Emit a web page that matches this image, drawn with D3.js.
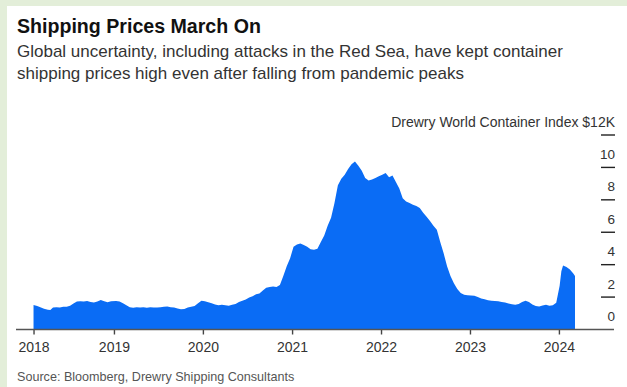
<!DOCTYPE html>
<html>
<head>
<meta charset="utf-8">
<script src="https://cdn.jsdelivr.net/npm/d3@7/dist/d3.min.js"></script>
<style>
  html, body { margin: 0; padding: 0; background: #e3eed9; }
  svg { display: block; }
  text { font-family: "Liberation Sans", Arial, Helvetica, sans-serif; }
</style>
</head>
<body>
<svg id="chart" width="627" height="387"></svg>
<script>
// Drewry World Container Index, $ thousands per 40ft container
const dates = [
  "2018-02-05","2018-02-20","2018-03-05","2018-03-20","2018-04-05","2018-04-15","2018-04-26","2018-05-10","2018-05-24","2018-06-07","2018-06-21","2018-07-05","2018-07-19","2018-08-02","2018-08-16","2018-08-30","2018-09-13","2018-09-27","2018-10-11","2018-10-25","2018-11-08","2018-11-22","2018-12-06","2018-12-20",
  "2019-01-10","2019-01-24","2019-02-07","2019-02-21","2019-03-07","2019-03-21","2019-04-04","2019-04-18","2019-05-02","2019-05-16","2019-05-30","2019-06-13","2019-06-27","2019-07-11","2019-07-25","2019-08-08","2019-08-22","2019-09-05","2019-09-19","2019-10-03","2019-10-17","2019-10-31","2019-11-14","2019-11-28","2019-12-12","2019-12-26",
  "2020-01-09","2020-01-23","2020-02-06","2020-02-20","2020-03-05","2020-03-19","2020-04-02","2020-04-16","2020-04-30","2020-05-14","2020-05-28","2020-06-11","2020-06-25","2020-07-09","2020-07-23","2020-08-06","2020-08-20","2020-09-03","2020-09-17","2020-10-01","2020-10-15","2020-10-29","2020-11-12","2020-11-26","2020-12-10","2020-12-24",
  "2021-01-07","2021-01-21","2021-02-04","2021-02-18","2021-03-04","2021-03-18","2021-04-01","2021-04-15","2021-04-29","2021-05-13","2021-05-27","2021-06-10","2021-06-24","2021-07-08","2021-07-22","2021-08-05","2021-08-19","2021-09-02","2021-09-16","2021-09-30","2021-10-14","2021-10-28","2021-11-11","2021-11-25","2021-12-09","2021-12-23",
  "2022-01-06","2022-01-20","2022-02-03","2022-02-17","2022-03-03","2022-03-17","2022-03-31","2022-04-14","2022-04-28","2022-05-12","2022-05-26","2022-06-09","2022-06-23","2022-07-07","2022-07-21","2022-08-04","2022-08-18","2022-09-01","2022-09-15","2022-09-29","2022-10-13","2022-10-27","2022-11-10","2022-11-24","2022-12-08","2022-12-22",
  "2023-01-05","2023-01-19","2023-02-02","2023-02-16","2023-03-02","2023-03-16","2023-03-30","2023-04-13","2023-04-27","2023-05-11","2023-05-25","2023-06-08","2023-06-22","2023-07-06","2023-07-20","2023-08-03","2023-08-17","2023-08-31","2023-09-14","2023-09-28","2023-10-12","2023-10-26","2023-11-09","2023-11-23","2023-12-07","2023-12-21",
  "2024-01-04","2024-01-11","2024-01-18","2024-02-01","2024-02-15","2024-02-29","2024-03-07"
];
const values = [
  1.51,1.45,1.37,1.28,1.22,1.20,1.36,1.38,1.36,1.40,1.41,1.47,1.60,1.72,1.75,1.72,1.76,1.70,1.67,1.73,1.82,1.74,1.68,1.75,
  1.76,1.73,1.62,1.50,1.37,1.34,1.38,1.36,1.37,1.34,1.37,1.35,1.36,1.38,1.40,1.42,1.38,1.35,1.30,1.25,1.27,1.36,1.40,1.45,1.62,1.78,
  1.75,1.68,1.62,1.55,1.50,1.52,1.50,1.47,1.52,1.58,1.70,1.78,1.85,1.98,2.05,2.17,2.22,2.40,2.58,2.62,2.65,2.62,2.75,3.30,3.90,4.40,
  5.10,5.25,5.30,5.22,5.10,4.95,4.92,4.98,5.40,5.80,6.40,6.90,7.80,8.90,9.30,9.55,9.90,10.20,10.37,10.10,9.80,9.35,9.20,9.25,9.35,9.45,
  9.55,9.65,9.40,9.50,9.10,8.70,8.10,7.90,7.80,7.70,7.62,7.50,7.20,6.95,6.70,6.40,6.15,5.40,4.70,3.90,3.30,2.85,2.50,2.25,2.15,2.12,
  2.10,2.08,2.00,1.92,1.86,1.80,1.78,1.76,1.74,1.70,1.67,1.60,1.56,1.52,1.58,1.70,1.78,1.70,1.55,1.45,1.42,1.48,1.52,1.46,1.50,1.65,
  2.70,3.60,3.95,3.85,3.70,3.45,3.30
];
const yTicks = [0, 2, 4, 6, 8, 10, 12];
const yearTicks = ["2018", "2019", "2020", "2021", "2022", "2023", "2024"];

const title = "Shipping Prices March On";
const subtitle = [
  "Global uncertainty, including attacks in the Red Sea, have kept container",
  "shipping prices high even after falling from pandemic peaks"
];
const yAxisTitle = "Drewry World Container Index $";
const source = "Source: Bloomberg, Drewry Shipping Consultants";

const parse = d3.timeParse("%Y-%m-%d");
const series = dates.map((d, i) => ({ date: parse(d), value: values[i] }));

const svg = d3.select("#chart");
const W = 627, H = 387;

// page panel
svg.append("rect").attr("width", W).attr("height", H).attr("fill", "#e3eed9");
svg.append("rect").attr("x", 7).attr("y", 6).attr("width", W - 7).attr("height", H - 6).attr("fill", "#ffffff");

const x = d3.scaleTime()
  .domain([new Date(2018, 0, 1), series[series.length - 1].date])
  .range([25, 575]);
const y = d3.scaleLinear().domain([0, 12]).range([329.5, 135]);

// headline and deck
svg.append("text").attr("x", 17).attr("y", 33)
  .attr("font-size", 19.6).attr("font-weight", 700).attr("fill", "#111")
  .text(title);
svg.selectAll("text.deck").data(subtitle).join("text")
  .attr("class", "deck")
  .attr("x", 17).attr("y", (d, i) => 57 + i * 22)
  .attr("font-size", 17).attr("fill", "#333")
  .text(d => d);

// filled area
const area = d3.area()
  .x(d => x(d.date))
  .y0(y(0))
  .y1(d => y(d.value))
  .curve(d3.curveLinear);
svg.append("path").datum(series)
  .attr("d", area)
  .attr("fill", "#0a6cf5");

// right-hand value axis: short dashes with labels sitting above them
const yg = svg.append("g");
yg.selectAll("line").data(yTicks.filter(v => v > 0)).join("line")
  .attr("x1", 601).attr("x2", 615)
  .attr("y1", d => y(d)).attr("y2", d => y(d))
  .attr("stroke", "#222").attr("stroke-width", 1.4);
yg.selectAll("text").data(yTicks).join("text")
  .attr("x", 615).attr("y", d => y(d) - 8.5)
  .attr("text-anchor", "end")
  .attr("font-size", d => d === 12 ? 14 : 13.5)
  .attr("fill", "#333")
  .text(d => d === 12 ? yAxisTitle + d + "K" : d);

// time axis
const tickDates = yearTicks.map((t, i) => i === 0 ? series[0].date : new Date(+t, 0, 1));
const xAxis = d3.axisBottom(x)
  .tickValues(tickDates)
  .tickSize(5)
  .tickPadding(8)
  .tickFormat((d, i) => yearTicks[i]);
const xg = svg.append("g").attr("transform", `translate(0,${y(0)})`).call(xAxis);
xg.select(".domain").remove();
xg.selectAll(".tick line").attr("stroke", "#444").attr("stroke-width", 1.4);
xg.selectAll(".tick text")
  .attr("font-family", "'Liberation Sans', Arial, sans-serif")
  .attr("font-size", 14).attr("fill", "#333");
svg.append("line")
  .attr("x1", 16).attr("x2", 614)
  .attr("y1", y(0)).attr("y2", y(0))
  .attr("stroke", "#555").attr("stroke-width", 1.5);

// source line
svg.append("text").attr("x", 17).attr("y", 381)
  .attr("font-size", 12.6).attr("fill", "#555")
  .text(source);
</script>
</body>
</html>
